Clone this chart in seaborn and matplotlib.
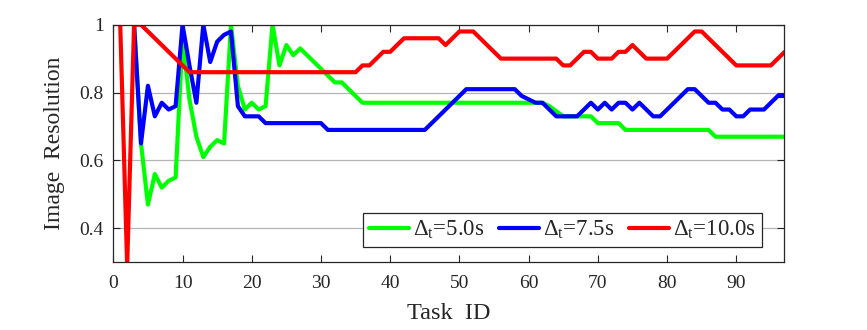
import numpy as np
import pandas as pd
import matplotlib
matplotlib.use("Agg")
import matplotlib.pyplot as plt
import seaborn as sns

nan = np.nan
tasks = list(range(1, 98))

green_5s = [nan, nan,
    1.00, 0.65, 0.47, 0.56, 0.52, 0.54, 0.55, 0.96, 0.78, 0.67,
    0.61, 0.64, 0.66, 0.65, 1.00, 0.82, 0.75, 0.77, 0.75, 0.76,
    1.00, 0.88, 0.94, 0.91, 0.93, 0.91, 0.89, 0.87, 0.85, 0.83,
    0.83, 0.81, 0.79, 0.77, 0.77, 0.77, 0.77, 0.77, 0.77, 0.77,
    0.77, 0.77, 0.77, 0.77, 0.77, 0.77, 0.77, 0.77, 0.77, 0.77,
    0.77, 0.77, 0.77, 0.77, 0.77, 0.77, 0.77, 0.77, 0.77, 0.77,
    0.76, 0.745, 0.73, 0.73, 0.73, 0.73, 0.73, 0.71, 0.71, 0.71,
    0.71, 0.69, 0.69, 0.69, 0.69, 0.69, 0.69, 0.69, 0.69, 0.69,
    0.69, 0.69, 0.69, 0.69, 0.67, 0.67, 0.67, 0.67, 0.67, 0.67,
    0.67, 0.67, 0.67, 0.67, 0.67]

blue_7_5s = [nan, nan,
    1.00, 0.65, 0.82, 0.73, 0.77, 0.75, 0.76, 1.00, 0.88, 0.77,
    1.00, 0.89, 0.95, 0.97, 0.98, 0.76, 0.73, 0.73, 0.73, 0.71,
    0.71, 0.71, 0.71, 0.71, 0.71, 0.71, 0.71, 0.71, 0.69, 0.69,
    0.69, 0.69, 0.69, 0.69, 0.69, 0.69, 0.69, 0.69, 0.69, 0.69,
    0.69, 0.69, 0.69, 0.71, 0.73, 0.75, 0.77, 0.79, 0.81, 0.81,
    0.81, 0.81, 0.81, 0.81, 0.81, 0.81, 0.79, 0.78, 0.77, 0.77,
    0.75, 0.73, 0.73, 0.73, 0.73, 0.75, 0.77, 0.75, 0.77, 0.75,
    0.77, 0.77, 0.75, 0.77, 0.75, 0.73, 0.73, 0.75, 0.77, 0.79,
    0.81, 0.81, 0.79, 0.77, 0.77, 0.75, 0.75, 0.73, 0.73, 0.75,
    0.75, 0.75, 0.77, 0.79, 0.79]

red_10s = [
    1.00, 0.29, 1.00, 1.00, 0.98, 0.96, 0.94, 0.92, 0.90, 0.88,
    0.86, 0.86, 0.86, 0.86, 0.86, 0.86, 0.86, 0.86, 0.86, 0.86,
    0.86, 0.86, 0.86, 0.86, 0.86, 0.86, 0.86, 0.86, 0.86, 0.86,
    0.86, 0.86, 0.86, 0.86, 0.86, 0.88, 0.88, 0.90, 0.92, 0.92,
    0.94, 0.96, 0.96, 0.96, 0.96, 0.96, 0.96, 0.94, 0.96, 0.98,
    0.98, 0.98, 0.96, 0.94, 0.92, 0.90, 0.90, 0.90, 0.90, 0.90,
    0.90, 0.90, 0.90, 0.90, 0.88, 0.88, 0.90, 0.92, 0.92, 0.90,
    0.90, 0.90, 0.92, 0.92, 0.94, 0.92, 0.90, 0.90, 0.90, 0.90,
    0.92, 0.94, 0.96, 0.98, 0.98, 0.96, 0.94, 0.92, 0.90, 0.88,
    0.88, 0.88, 0.88, 0.88, 0.88, 0.90, 0.92]

series_labels = ["Δ$_{\\mathrm{t}}$=5.0s", "Δ$_{\\mathrm{t}}$=7.5s", "Δ$_{\\mathrm{t}}$=10.0s"]
series_colors = ["#00ff00", "#0000ff", "#ff0000"]
xticks = [0, 10, 20, 30, 40, 50, 60, 70, 80, 90]
yticks = [0.4, 0.6, 0.8, 1.0]
ytick_labels = ["0.4", "0.6", "0.8", "1"]

sns.set_style("ticks")
plt.rcParams["font.family"] = ["Liberation Serif", "DejaVu Serif"]
plt.rcParams["mathtext.fontset"] = "custom"
plt.rcParams["mathtext.rm"] = "Liberation Serif"
plt.rcParams["mathtext.it"] = "Liberation Serif:italic"

frames = []
for lab, vals in zip(series_labels, [green_5s, blue_7_5s, red_10s]):
    frames.append(pd.DataFrame({"task": tasks, "res": vals, "series": lab}))
df = pd.concat(frames, ignore_index=True).dropna()

fig = plt.figure(figsize=(8.67, 3.30), dpi=100)
ax = fig.add_axes([0.1307, 0.2052, 0.9043 - 0.1307, 0.9252 - 0.2052])

sns.lineplot(data=df, x="task", y="res", hue="series", hue_order=series_labels,
             palette=dict(zip(series_labels, series_colors)), estimator=None,
             sort=False, linewidth=3.0, ax=ax, legend=False)

ax.set_xlim(0, 96.9)
ax.set_ylim(0.3, 1.0)
ax.set_xticks(xticks)
ax.set_yticks(yticks)
ax.set_yticklabels(ytick_labels)
ax.yaxis.grid(True, color="#b4b4b4", linewidth=0.9)
ax.xaxis.grid(False)
ax.set_axisbelow(True)
ax.tick_params(direction="in", top=True, right=True, length=5, width=0.8,
               labelsize=14, colors="#262626")
ax.tick_params(axis="x", pad=9)
ax.tick_params(axis="y", pad=7)
for s in ax.spines.values():
    s.set_linewidth(0.9)
    s.set_color("#262626")
    s.set_visible(True)

ax.set_xlabel("Task  ID", fontsize=17.5, labelpad=8)
ax.set_ylabel("Image  Resolution", fontsize=17, labelpad=10)

handles = [plt.Line2D([], [], color=c, lw=3.0) for c in series_colors]
leg = ax.legend(handles, series_labels, ncol=3, loc="lower right",
                bbox_to_anchor=(0.967, 0.064), borderaxespad=0, fontsize=16.5,
                frameon=True, fancybox=False, framealpha=1, edgecolor="#262626",
                handlelength=1.75, handletextpad=0.2, columnspacing=0.6,
                borderpad=0.25)
leg.get_frame().set_linewidth(0.9)

fig.savefig("out.png", dpi=100)
